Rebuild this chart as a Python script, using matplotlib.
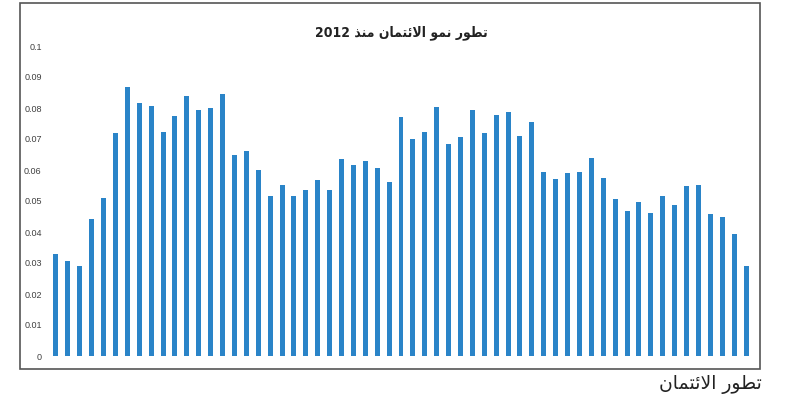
import matplotlib.pyplot as plt
import matplotlib.patches as patches
import numpy as np

# credit growth values (59 periods since 2012)
growth = [0.0329, 0.0305, 0.0290, 0.0441, 0.0511, 0.0718, 0.0867, 0.0816, 0.0806, 0.0723,
          0.0773, 0.0840, 0.0792, 0.0800, 0.0844, 0.0647, 0.0661, 0.0601, 0.0517, 0.0551,
          0.0517, 0.0534, 0.0568, 0.0534, 0.0634, 0.0616, 0.0628, 0.0608, 0.0562, 0.0770,
          0.0701, 0.0722, 0.0803, 0.0685, 0.0706, 0.0794, 0.0718, 0.0778, 0.0788, 0.0710,
          0.0755, 0.0595, 0.0571, 0.0589, 0.0592, 0.0638, 0.0574, 0.0506, 0.0469, 0.0496,
          0.0462, 0.0516, 0.0486, 0.0547, 0.0551, 0.0457, 0.0447, 0.0392, 0.0290]
yticks = [0, 0.01, 0.02, 0.03, 0.04, 0.05, 0.06, 0.07, 0.08, 0.09, 0.1]
ytick_labels = ['0', '0.01', '0.02', '0.03', '0.04', '0.05', '0.06', '0.07', '0.08', '0.09', '0.1']
title = 'تطور نمو الائتمان منذ 2012'
caption = 'تطور الائتمان'

# minimal arabic shaping (matplotlib has no bidi/shaping)
# letter: (isolated, final, initial, medial)
forms = {
    'ا': ('\uFE8D', '\uFE8E', None, None),
    'ئ': ('\uFE89', '\uFE8A', '\uFE8B', '\uFE8C'),
    'ت': ('\uFE95', '\uFE96', '\uFE97', '\uFE98'),
    'ط': ('\uFEC1', '\uFEC2', '\uFEC3', '\uFEC4'),
    'و': ('\uFEED', '\uFEEE', None, None),
    'ر': ('\uFEAD', '\uFEAE', None, None),
    'ن': ('\uFEE5', '\uFEE6', '\uFEE7', '\uFEE8'),
    'م': ('\uFEE1', '\uFEE2', '\uFEE3', '\uFEE4'),
    'ل': ('\uFEDD', '\uFEDE', '\uFEDF', '\uFEE0'),
    'ذ': ('\uFEAB', '\uFEAC', None, None),
}


def shape_word(word):
    # merge lam + alef into one ligature unit
    units = []
    i = 0
    while i < len(word):
        if word[i] == 'ل' and i + 1 < len(word) and word[i + 1] == 'ا':
            units.append('LA')
            i += 2
        else:
            units.append(word[i])
            i += 1
    out = []
    for k, u in enumerate(units):
        prev = units[k - 1] if k > 0 else None
        nxt = units[k + 1] if k + 1 < len(units) else None
        joins_prev = prev is not None and prev != 'LA' and forms[prev][2] is not None
        if u == 'LA':
            out.append('\uFEFC' if joins_prev else '\uFEFB')
            continue
        f = forms[u]
        joins_next = nxt is not None and f[2] is not None
        if joins_prev and joins_next:
            out.append(f[3])
        elif joins_prev:
            out.append(f[1])
        elif joins_next:
            out.append(f[2])
        else:
            out.append(f[0])
    return ''.join(out)


def rtl(text):
    words = []
    for w in text.split(' '):
        if w and w[0] in forms:
            words.append(shape_word(w)[::-1])
        else:
            words.append(w)
    return ' '.join(words[::-1])


fig = plt.figure(figsize=(7.85, 3.98), dpi=100)
fig.patch.set_facecolor('white')

ax = fig.add_axes([50 / 785, 42 / 398, 702 / 785, 310 / 398])
x = np.arange(len(growth))
ax.bar(x, growth, width=0.42, color='#2a84c8')
ax.set_xlim(-0.5, len(growth) - 0.5)
ax.set_ylim(0, 0.1)
ax.set_yticks(yticks)
ax.set_yticklabels(ytick_labels, fontsize=6.5, family='Liberation Sans', color='#404040')
ax.set_xticks([])
ax.tick_params(axis='y', length=0, pad=6)
for s in ax.spines.values():
    s.set_visible(False)

# outer frame around the chart
frame = patches.Rectangle((20 / 785, 29 / 398), 740 / 785, 366 / 398, transform=fig.transFigure,
                          fill=False, edgecolor='#555555', linewidth=1.2)
fig.patches.append(frame)

fig.text(401 / 785, 1 - 33 / 398, rtl(title), ha='center', va='center',
         fontsize=10, fontweight='bold', family='DejaVu Sans', fontstretch='condensed',
         color='#222222')
fig.text(762 / 785, 1 - 384 / 398, rtl(caption), ha='right', va='center',
         fontsize=13.5, family='DejaVu Sans', color='#222222')

fig.savefig('out.png', dpi=100, facecolor='white')
